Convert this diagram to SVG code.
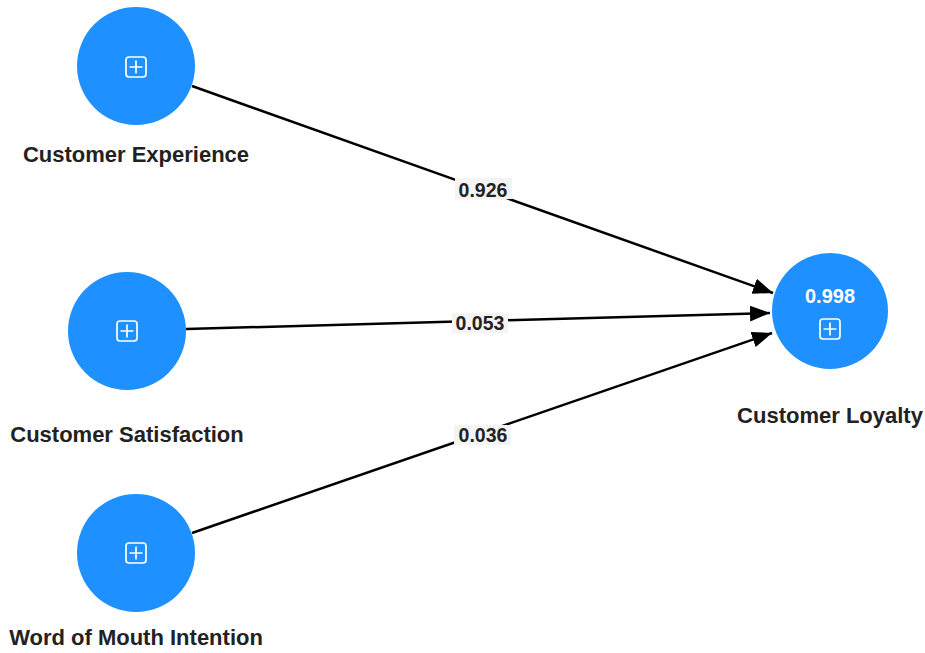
<svg xmlns="http://www.w3.org/2000/svg" width="925" height="653" viewBox="0 0 925 653">
<style>
.node{fill:#1E90FF;}
.lbl{font-family:"Liberation Sans",Arial,sans-serif;font-weight:bold;font-size:22px;fill:#222;text-anchor:middle;}
.edge{stroke:#000;stroke-width:2.5;fill:none;}
.elbl{font-family:"Liberation Sans",Arial,sans-serif;font-weight:bold;font-size:19.5px;fill:#222;text-anchor:middle;}
.ebg{fill:#f4f4f4;}
.icon{fill:none;stroke:#fff;stroke-width:1.7;}
.val{font-family:"Liberation Sans",Arial,sans-serif;font-size:20px;font-weight:600;fill:#fff;text-anchor:middle;}
</style>
<defs>
<marker id="arr" markerUnits="userSpaceOnUse" markerWidth="22" markerHeight="18" refX="20" refY="8" orient="auto">
<path d="M0,0 L20,8 L0,16 Z" fill="#000"/>
</marker>
<g id="plus">
<rect x="-10" y="-10" width="20" height="20" rx="3" class="icon"/>
<path d="M0,-6.5 V6.5 M-6.5,0 H6.5" class="icon"/>
</g>
</defs>
<g id="connectors">
<line class="edge" x1="192" y1="86" x2="773" y2="293" marker-end="url(#arr)"/>
<line class="edge" x1="186" y1="329" x2="770" y2="313" marker-end="url(#arr)"/>
<line class="edge" x1="192" y1="533" x2="772" y2="333" marker-end="url(#arr)"/>
<rect class="ebg" x="455" y="178" width="57" height="21"/>
<text class="elbl" x="483" y="197">0.926</text>
<rect class="ebg" x="452" y="313" width="56" height="20"/>
<text class="elbl" x="480" y="330">0.053</text>
<rect class="ebg" x="454" y="425" width="57" height="20"/>
<text class="elbl" x="483" y="442">0.036</text>
</g>
<g id="customer-experience">
<circle class="node" cx="136" cy="66" r="59"/>
<use href="#plus" x="136" y="67"/>
<text class="lbl" x="136" y="162">Customer Experience</text>
</g>
<g id="customer-satisfaction">
<circle class="node" cx="127" cy="331" r="59"/>
<use href="#plus" x="127" y="331"/>
<text class="lbl" x="127" y="442">Customer Satisfaction</text>
</g>
<g id="word-of-mouth">
<circle class="node" cx="136" cy="553" r="59"/>
<use href="#plus" x="136" y="553"/>
<text class="lbl" x="136" y="645">Word of Mouth Intention</text>
</g>
<g id="customer-loyalty">
<circle class="node" cx="830" cy="311" r="58"/>
<text class="val" x="830" y="303">0.998</text>
<use href="#plus" x="830" y="329"/>
<text class="lbl" x="830" y="423">Customer Loyalty</text>
</g>
</svg>
